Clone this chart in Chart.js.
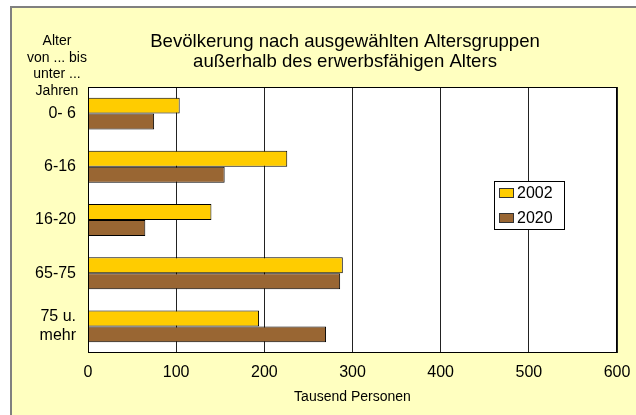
<!DOCTYPE html>
<html>
<head>
<meta charset="utf-8">
<script src="https://cdn.jsdelivr.net/npm/chart.js@4"></script>
<style>
  html, body { margin: 0; padding: 0; background: #fff; }
  #wrap { width: 636px; height: 415px; }
</style>
</head>
<body>
<div id="wrap"><canvas id="c" width="636" height="415"></canvas></div>
<script>
// Daten
const categories = ["0- 6", "6-16", "16-20", "65-75", ["75 u.", "mehr"]];
const seriesNames = ["2002", "2020"];
const values2002 = [104, 226, 140, 289, 194];
const values2020 = [75, 155, 65, 286, 270];
const xTicks = [0, 100, 200, 300, 400, 500, 600];
const titleLines = ["Bevölkerung nach ausgewählten Altersgruppen", "außerhalb des erwerbsfähigen Alters"];
const axisNote = ["Alter", "von ... bis", "unter ...", "Jahren"];
const xTitle = "Tausend Personen";

const FONT = "'Liberation Sans', Arial, sans-serif";
Chart.defaults.font.family = FONT;
Chart.defaults.color = "#000";

// Hintergrund, Rahmen, Titel, Legende
const decor = {
  id: "decor",
  beforeDraw(chart) {
    const { ctx, chartArea: { left, right, top, bottom } } = chart;
    ctx.save();
    ctx.fillStyle = "#fff";
    ctx.fillRect(0, 0, chart.width, chart.height);
    ctx.fillStyle = "#ffffc0";
    ctx.fillRect(11, 7, chart.width - 11, chart.height - 7);
    ctx.strokeStyle = "#808080";
    ctx.lineWidth = 2;
    ctx.strokeRect(11, 7, chart.width, chart.height);
    ctx.fillStyle = "#fff";
    ctx.fillRect(left, top, right - left, bottom - top);
    ctx.restore();
  },
  afterDraw(chart) {
    const { ctx, chartArea: { left, right, top, bottom } } = chart;
    ctx.save();
    ctx.strokeStyle = "#000";
    ctx.lineWidth = 1;
    ctx.strokeRect(left + 0.5, top + 0.5, right - left - 1, bottom - top - 1);

    ctx.fillStyle = "#000";
    ctx.textAlign = "center";
    ctx.textBaseline = "alphabetic";
    ctx.font = "18.6px " + FONT;
    titleLines.forEach((t, i) => ctx.fillText(t, 345, 46.5 + i * 20));
    ctx.font = "14px " + FONT;
    axisNote.forEach((t, i) => ctx.fillText(t, 57, 45 + i * 16.7));
    ctx.fillText(xTitle, (left + right) / 2, 401);

    // Legende
    const lx = 494, ly = 181, lw = 70, lh = 48;
    ctx.fillStyle = "#fff";
    ctx.fillRect(lx, ly, lw, lh);
    ctx.strokeStyle = "#000";
    ctx.strokeRect(lx + 0.5, ly + 0.5, lw, lh);
    ctx.font = "16px " + FONT;
    ctx.textAlign = "left";
    ctx.textBaseline = "middle";
    chart.data.datasets.forEach((ds, i) => {
      const y = ly + 12 + i * 25;
      ctx.fillStyle = ds.backgroundColor;
      ctx.fillRect(lx + 5.5, y - 4.5, 14, 9);
      ctx.strokeStyle = "#333";
      ctx.strokeRect(lx + 5.5, y - 4.5, 14, 9);
      ctx.fillStyle = "#000";
      ctx.fillText(ds.label, lx + 23, y + 1);
    });
    ctx.restore();
  },
};

new Chart(document.getElementById("c"), {
  type: "bar",
  data: {
    labels: categories,
    datasets: [
      { label: seriesNames[0], data: values2002, backgroundColor: "#ffcc00", borderColor: "#000", borderWidth: 1 },
      { label: seriesNames[1], data: values2020, backgroundColor: "#996633", borderColor: "#000", borderWidth: 1 },
    ],
  },
  options: {
    indexAxis: "y",
    responsive: false,
    animation: false,
    layout: { padding: { top: 87, right: 19, left: 0, bottom: 0 } },
    plugins: { legend: { display: false }, tooltip: { enabled: false } },
    datasets: { bar: { categoryPercentage: 0.6, barPercentage: 1.0 } },
    scales: {
      x: {
        min: 0, max: 600,
        afterBuildTicks: (s) => { s.ticks = xTicks.map((v) => ({ value: v })); },
        ticks: { font: { size: 16 }, padding: 10, color: "#000" },
        grid: { color: "#222", drawTicks: false },
        border: { display: false },
        afterFit: (s) => { s.height = 62; s.paddingLeft = 0; s.paddingRight = 0; },
      },
      y: {
        ticks: { font: { size: 16 }, padding: 12, color: "#000", lineHeight: 1.15 },
        grid: { display: false, drawTicks: false },
        border: { display: false },
        afterFit: (s) => { s.width = 88; s.paddingTop = 0; s.paddingBottom = 0; },
      },
    },
  },
  plugins: [decor],
});
</script>
</body>
</html>
